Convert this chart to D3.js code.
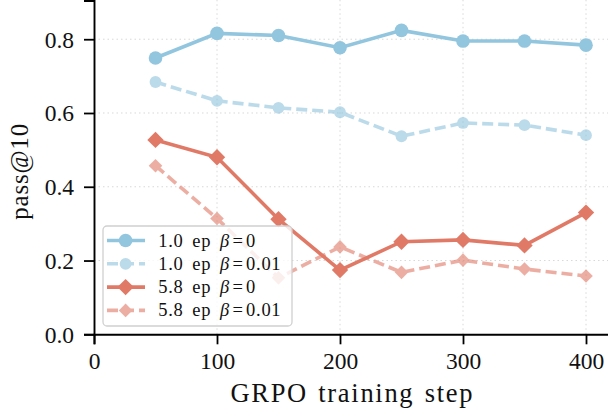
<!DOCTYPE html>
<html>
<head>
<meta charset="utf-8">
<script src="https://cdn.jsdelivr.net/npm/d3@7"></script>
<style>
  body { margin: 0; background: #fff; }
</style>
</head>
<body>
<svg width="608" height="412"></svg>
<script>
const steps = [50, 100, 150, 200, 250, 300, 350, 400];
const ep1Beta0 = [0.749, 0.816, 0.810, 0.777, 0.824, 0.795, 0.795, 0.784];
const ep1Beta001 = [0.684, 0.633, 0.614, 0.602, 0.537, 0.573, 0.567, 0.540];
const ep58Beta0 = [0.527, 0.480, 0.312, 0.174, 0.251, 0.256, 0.241, 0.330];
const ep58Beta001 = [0.457, 0.314, 0.153, 0.237, 0.168, 0.201, 0.177, 0.158];
const xTicks = [0, 100, 200, 300, 400];
const yTicks = [0.0, 0.2, 0.4, 0.6, 0.8];
const labels = ["1.0 ep", "1.0 ep", "5.8 ep", "5.8 ep"];
const betas = ["0", "0.01", "0", "0.01"];

const FONT = "'Liberation Serif', serif";

// style per series
const series = [
  {values: ep1Beta0, color: "#92c5de", opacity: 1, dash: null, shape: "circle", r: 6.8},
  {values: ep1Beta001, color: "#92c5de", opacity: 0.62, dash: "11,5", shape: "circle", r: 5.9},
  {values: ep58Beta0, color: "#e07a67", opacity: 1, dash: null, shape: "diamond", r: 8.2},
  {values: ep58Beta001, color: "#e07a67", opacity: 0.6, dash: "11,5", shape: "diamond", r: 6.8},
];

const svg = d3.select("svg");
const x = d3.scaleLinear().domain([0, 420]).range([94, 610.6]);
const y = d3.scaleLinear().domain([0, 0.905]).range([334.3, 0.5]);

// grid
svg.append("g").selectAll("line").data(yTicks.slice(1)).join("line")
  .attr("x1", x(0)).attr("x2", 608)
  .attr("y1", d => y(d)).attr("y2", d => y(d))
  .attr("stroke", "#d8d8d8").attr("stroke-width", 1).attr("stroke-dasharray", "1.5,3");
svg.append("g").selectAll("line").data(xTicks.slice(1)).join("line")
  .attr("x1", d => x(d)).attr("x2", d => x(d))
  .attr("y1", y(0)).attr("y2", 0)
  .attr("stroke", "#d8d8d8").attr("stroke-width", 1).attr("stroke-dasharray", "1.5,3");

const diamond = (s) => `M0,${-s}L${s},0L0,${s}L${-s},0Z`;

function drawMarker(g, s) {
  if (s.shape === "circle") {
    g.append("circle").attr("r", s.r);
  } else {
    g.append("path").attr("d", diamond(s.r));
  }
}

const line = d3.line().x(d => x(d[0])).y(d => y(d[1]));

series.forEach(s => {
  const pts = steps.map((st, i) => [st, s.values[i]]);
  const g = svg.append("g").attr("opacity", s.opacity);
  g.append("path").datum(pts)
    .attr("d", line)
    .attr("fill", "none")
    .attr("stroke", s.color)
    .attr("stroke-width", 3.6)
    .attr("stroke-dasharray", s.dash);
  pts.forEach(p => {
    const m = g.append("g").attr("transform", `translate(${x(p[0])},${y(p[1])})`).attr("fill", s.color);
    drawMarker(m, s);
  });
});

// axes
const xAxis = svg.append("g").attr("transform", `translate(0,${y(0)})`)
  .call(d3.axisBottom(x).tickValues(xTicks).tickSize(10).tickPadding(8).tickFormat(d3.format("d")));
const yAxis = svg.append("g").attr("transform", `translate(${x(0)},0)`)
  .call(d3.axisLeft(y).tickValues(yTicks).tickSize(10).tickPadding(10).tickFormat(d3.format(".1f")));
[xAxis, yAxis].forEach(a => {
  a.select(".domain").attr("stroke", "#000").attr("stroke-width", 1.9);
  a.selectAll(".tick line").attr("stroke", "#000").attr("stroke-width", 1.8);
  a.selectAll("text").style("font-family", FONT).style("font-size", "23.5px").attr("fill", "#111");
});
yAxis.selectAll("text").attr("dy", "0.34em");

svg.append("text").attr("x", (x.range()[0] + x.range()[1]) / 2).attr("y", 402)
  .attr("text-anchor", "middle").style("font-family", FONT).style("font-size", "26.5px")
  .style("letter-spacing", "1.7px").style("word-spacing", "2px").attr("fill", "#111")
  .text("GRPO training step");
svg.append("text").attr("transform", `translate(28,${(y.range()[0] + y.range()[1]) / 2 + 4}) rotate(-90)`)
  .attr("text-anchor", "middle").style("font-family", FONT).style("font-size", "25px")
  .style("letter-spacing", "0.8px").attr("fill", "#111")
  .text("pass@10");

// legend
const lg = svg.append("g").attr("transform", "translate(103,226)");
lg.append("rect").attr("width", 189).attr("height", 100).attr("rx", 4)
  .attr("fill", "rgba(255,255,255,0.8)").attr("stroke", "#d0d0d0").attr("stroke-width", 1.3);
series.forEach((s, i) => {
  const row = lg.append("g").attr("transform", `translate(0,${14.5 + i * 23.3})`);
  const sw = row.append("g").attr("opacity", s.opacity);
  sw.append("line").attr("x1", 4).attr("x2", 42).attr("stroke", s.color).attr("stroke-width", 3.6)
    .attr("stroke-dasharray", s.dash);
  const m = sw.append("g").attr("transform", "translate(22.6,0)").attr("fill", s.color);
  drawMarker(m, s);
  const t = row.append("text").attr("x", 55.3).attr("y", 6)
    .style("font-family", FONT).style("font-size", "18.5px")
    .style("word-spacing", "3.5px").style("letter-spacing", "0.7px").attr("fill", "#111");
  t.append("tspan").text(labels[i] + " ");
  t.append("tspan").attr("font-style", "italic").text("β");
  t.append("tspan").attr("dx", 2.5).text("=");
  t.append("tspan").attr("dx", 2.5).text(betas[i]);
});
</script>
</body>
</html>
